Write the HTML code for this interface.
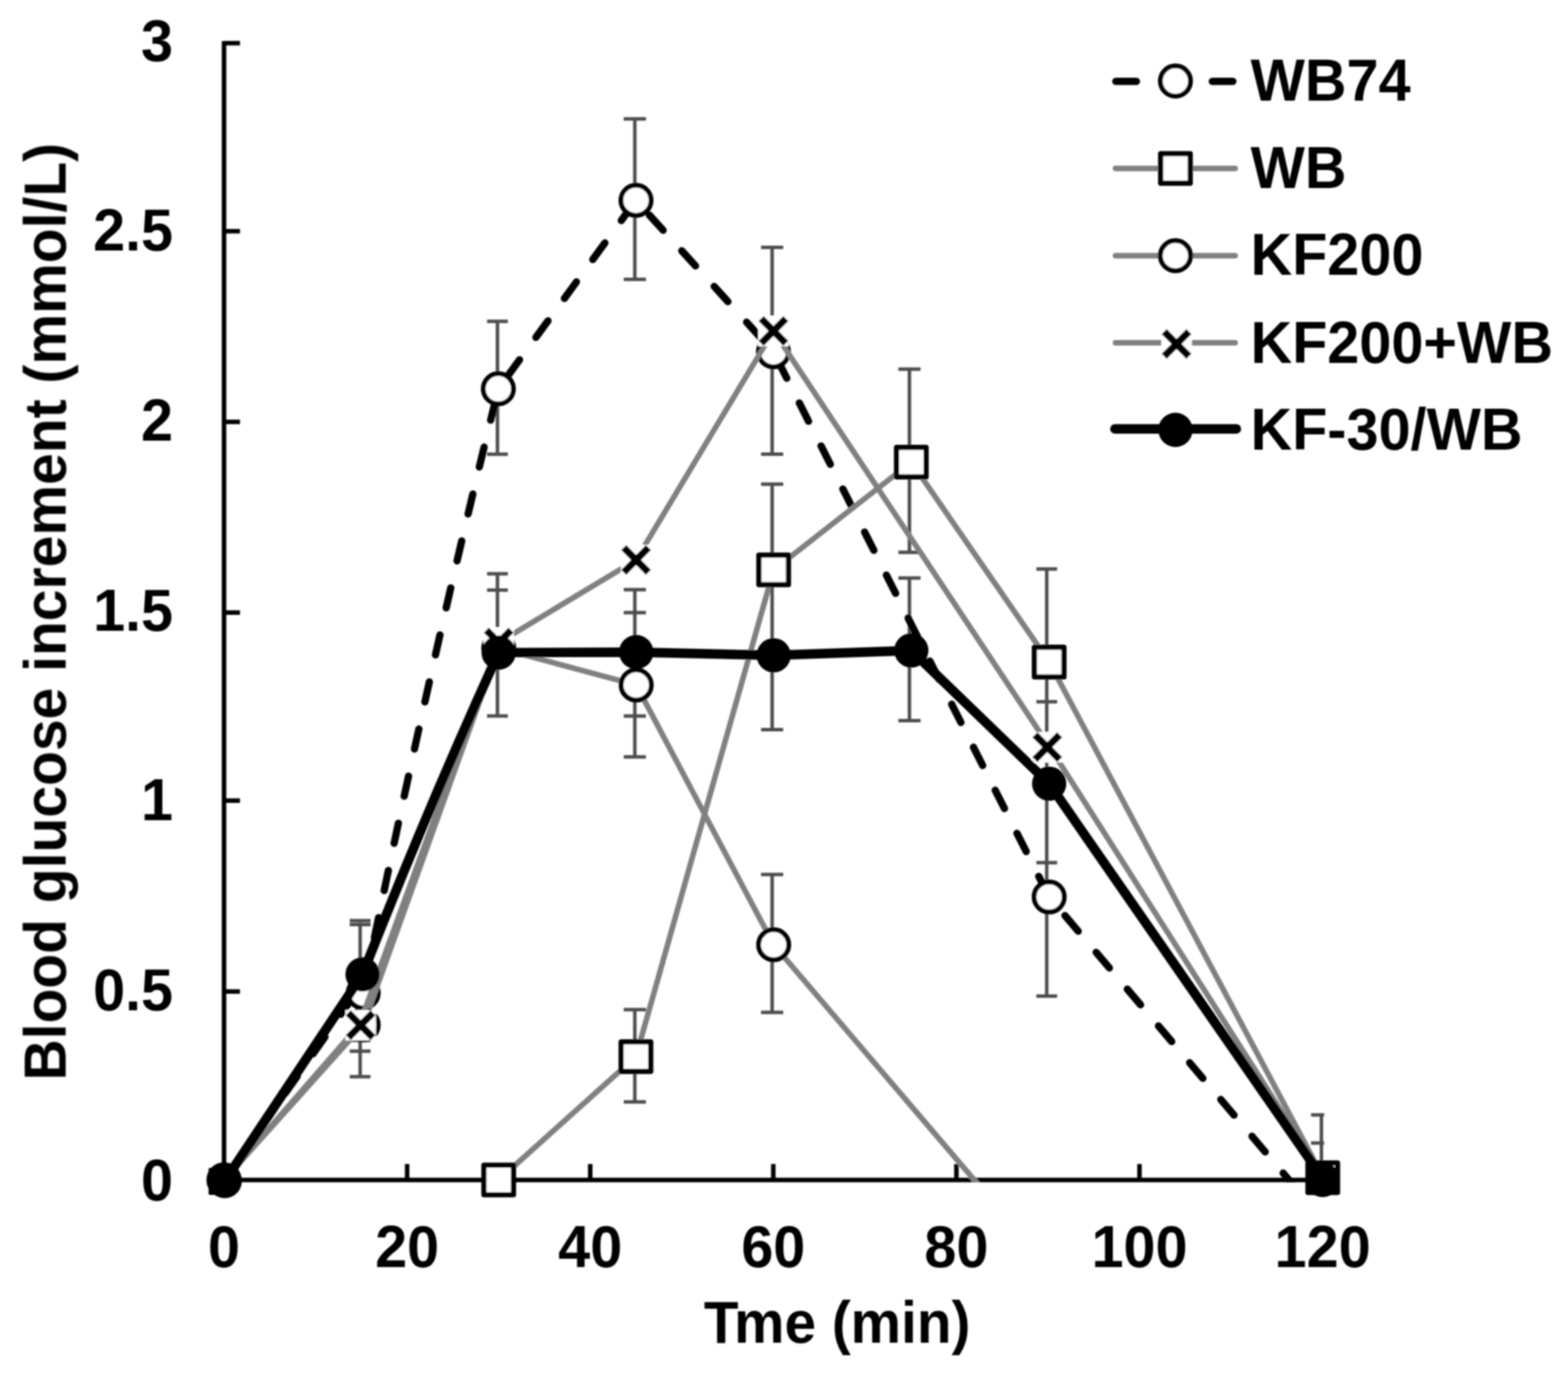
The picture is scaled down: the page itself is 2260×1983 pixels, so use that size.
<!DOCTYPE html>
<html lang="en"><head><meta charset="utf-8"><title>Blood glucose increment</title>
<style>html,body{margin:0;padding:0;background:#fff}body{width:2260px;height:1983px;overflow:hidden}svg{display:block}text{font-family:"Liberation Sans",Arial,Helvetica,sans-serif;font-weight:bold;fill:#000}</style>
</head><body>
<svg width="2260" height="1983" viewBox="0 0 2260 1983">
<rect x="0" y="0" width="2260" height="1983" fill="#fff"/>
<defs><filter id="soft" x="0" y="0" width="2260" height="1983" filterUnits="userSpaceOnUse"><feGaussianBlur stdDeviation="0.90"/></filter></defs>
<g filter="url(#soft)">
<defs><clipPath id="plot"><rect x="280" y="40" width="1628.5" height="1664"/></clipPath><clipPath id="plotw"><rect x="280" y="40" width="1700" height="1700"/></clipPath></defs>
<g stroke="#000" stroke-width="6.5" fill="none" stroke-linecap="butt">
<line x1="322.9" y1="59.2" x2="322.9" y2="1703.8"/>
<line x1="319.6" y1="1700.5" x2="1906.3" y2="1700.5"/>
<line x1="322.9" y1="62.2" x2="345.9" y2="62.2"/>
<line x1="322.9" y1="333.2" x2="345.9" y2="333.2"/>
<line x1="322.9" y1="608.0" x2="345.9" y2="608.0"/>
<line x1="322.9" y1="882.8" x2="345.9" y2="882.8"/>
<line x1="322.9" y1="1153.8" x2="345.9" y2="1153.8"/>
<line x1="322.9" y1="1428.9" x2="345.9" y2="1428.9"/>
<line x1="586.8" y1="1700.5" x2="586.8" y2="1677.5"/>
<line x1="850.7" y1="1700.5" x2="850.7" y2="1677.5"/>
<line x1="1114.6" y1="1700.5" x2="1114.6" y2="1677.5"/>
<line x1="1378.5" y1="1700.5" x2="1378.5" y2="1677.5"/>
<line x1="1642.4" y1="1700.5" x2="1642.4" y2="1677.5"/>
</g>
<text transform="translate(249.5 87.8) scale(1.0000 1.0350)" font-size="83" text-anchor="end">3</text>
<text transform="translate(249.5 361.5) scale(1.0000 1.0350)" font-size="83" text-anchor="end">2.5</text>
<text transform="translate(249.5 635.1) scale(1.0000 1.0350)" font-size="83" text-anchor="end">2</text>
<text transform="translate(249.5 908.8) scale(1.0000 1.0350)" font-size="83" text-anchor="end">1.5</text>
<text transform="translate(249.5 1182.5) scale(1.0000 1.0350)" font-size="83" text-anchor="end">1</text>
<text transform="translate(249.5 1456.1) scale(1.0000 1.0350)" font-size="83" text-anchor="end">0.5</text>
<text transform="translate(249.5 1729.8) scale(1.0000 1.0350)" font-size="83" text-anchor="end">0</text>
<text transform="translate(322.9 1826.0) scale(1.0000 1.0350)" font-size="83" text-anchor="middle">0</text>
<text transform="translate(586.8 1826.0) scale(1.0000 1.0350)" font-size="83" text-anchor="middle">20</text>
<text transform="translate(850.7 1826.0) scale(1.0000 1.0350)" font-size="83" text-anchor="middle">40</text>
<text transform="translate(1114.6 1826.0) scale(1.0000 1.0350)" font-size="83" text-anchor="middle">60</text>
<text transform="translate(1378.5 1826.0) scale(1.0000 1.0350)" font-size="83" text-anchor="middle">80</text>
<text transform="translate(1642.4 1826.0) scale(1.0000 1.0350)" font-size="83" text-anchor="middle">100</text>
<text transform="translate(1906.3 1826.0) scale(1.0000 1.0350)" font-size="83" text-anchor="middle">120</text>
<text transform="translate(1014.5 1935.0) scale(0.9850 1.0350)" font-size="83" text-anchor="start" dx="0 -6.5">Tme (min)</text>
<text transform="translate(94.3 881.5) rotate(-90) scale(0.9900 1.0350)" font-size="83" text-anchor="middle">Blood glucose increment (mmol/L)</text>
<g stroke="#4d4d4d" stroke-width="5" fill="none" clip-path="url(#plot)">
<line x1="519.1" y1="1329.6" x2="519.1" y2="1404.0"/><line x1="504.1" y1="1326.8" x2="534.1" y2="1326.8"/><line x1="504.1" y1="1332.4" x2="534.1" y2="1332.4"/>
<line x1="519.1" y1="1477.0" x2="519.1" y2="1551.7"/><line x1="504.1" y1="1499.3" x2="534.1" y2="1499.3"/><line x1="504.1" y1="1514.9" x2="534.1" y2="1514.9"/><line x1="504.1" y1="1551.7" x2="534.1" y2="1551.7"/>
<line x1="717.0" y1="463.1" x2="717.0" y2="654.6"/><line x1="702.0" y1="463.1" x2="732.0" y2="463.1"/><line x1="702.0" y1="654.6" x2="732.0" y2="654.6"/>
<line x1="717.0" y1="826.9" x2="717.0" y2="1031.8"/><line x1="702.0" y1="826.9" x2="732.0" y2="826.9"/><line x1="702.0" y1="850.4" x2="732.0" y2="850.4"/><line x1="702.0" y1="1031.8" x2="732.0" y2="1031.8"/>
<line x1="915.0" y1="171.3" x2="915.0" y2="402.6"/><line x1="899.0" y1="171.3" x2="931.0" y2="171.3"/><line x1="899.0" y1="402.6" x2="931.0" y2="402.6"/>
<line x1="915.0" y1="849.8" x2="915.0" y2="1090.8"/><line x1="899.0" y1="849.8" x2="931.0" y2="849.8"/><line x1="899.0" y1="882.9" x2="931.0" y2="882.9"/><line x1="899.0" y1="1031.9" x2="931.0" y2="1031.9"/><line x1="899.0" y1="1090.8" x2="931.0" y2="1090.8"/>
<line x1="915.0" y1="1455.0" x2="915.0" y2="1588.0"/><line x1="899.0" y1="1455.0" x2="931.0" y2="1455.0"/><line x1="899.0" y1="1588.0" x2="931.0" y2="1588.0"/>
<line x1="1112.9" y1="356.4" x2="1112.9" y2="654.6"/><line x1="1096.9" y1="356.4" x2="1128.9" y2="356.4"/><line x1="1096.9" y1="654.6" x2="1128.9" y2="654.6"/>
<line x1="1112.9" y1="697.7" x2="1112.9" y2="1051.6"/><line x1="1096.9" y1="697.7" x2="1128.9" y2="697.7"/><line x1="1096.9" y1="1051.6" x2="1128.9" y2="1051.6"/>
<line x1="1112.9" y1="1260.3" x2="1112.9" y2="1459.0"/><line x1="1096.9" y1="1260.3" x2="1128.9" y2="1260.3"/><line x1="1096.9" y1="1459.0" x2="1128.9" y2="1459.0"/>
<line x1="1310.8" y1="531.9" x2="1310.8" y2="796.1"/><line x1="1294.8" y1="531.9" x2="1326.8" y2="531.9"/><line x1="1294.8" y1="796.1" x2="1326.8" y2="796.1"/>
<line x1="1310.8" y1="832.9" x2="1310.8" y2="1038.4"/><line x1="1294.8" y1="832.9" x2="1326.8" y2="832.9"/><line x1="1294.8" y1="1038.4" x2="1326.8" y2="1038.4"/>
<line x1="1508.7" y1="820.0" x2="1508.7" y2="1435.5"/><line x1="1493.7" y1="820.0" x2="1523.7" y2="820.0"/><line x1="1493.7" y1="1011.3" x2="1523.7" y2="1011.3"/><line x1="1493.7" y1="1243.2" x2="1523.7" y2="1243.2"/><line x1="1493.7" y1="1435.5" x2="1523.7" y2="1435.5"/>
<line x1="1904.6" y1="1606.7" x2="1904.6" y2="1700.0"/><line x1="1889.6" y1="1606.7" x2="1919.6" y2="1606.7"/><line x1="1889.6" y1="1647.2" x2="1919.6" y2="1647.2"/>
</g>
<g clip-path="url(#plot)">
<path d="M322.9 1700.5Q422.2 1559.8 521.5 1419.0" fill="none" stroke="#000" stroke-width="10.5" stroke-linecap="round" stroke-dasharray="29.5 40.0" stroke-dashoffset="55.2"/>
<path d="M523.5 1431.0Q611.0 995.6 718.3 560.3" fill="none" stroke="#000" stroke-width="10.5" stroke-linecap="round" stroke-dasharray="29.5 40.0" stroke-dashoffset="57.7"/>
<path d="M718.3 560.3Q817.5 424.5 916.7 288.7" fill="none" stroke="#000" stroke-width="10.5" stroke-linecap="round" stroke-dasharray="29.5 40.0" stroke-dashoffset="47.2"/>
<path d="M916.7 288.7Q1015.8 397.9 1114.8 507.0" fill="none" stroke="#000" stroke-width="10.5" stroke-linecap="round" stroke-dasharray="29.5 40.0" stroke-dashoffset="40.9"/>
<path d="M1114.8 507.0Q1313.5 899.8 1512.2 1292.6" fill="none" stroke="#000" stroke-width="10.5" stroke-linecap="round" stroke-dasharray="29.5 40.0" stroke-dashoffset="56.4"/>
<path d="M1512.2 1292.6Q1709.2 1525.1 1906.3 1757.6" fill="none" stroke="#000" stroke-width="10.5" stroke-linecap="round" stroke-dasharray="29.5 40.0" stroke-dashoffset="34.3"/>
</g><g clip-path="url(#plotw)">
<circle cx="322.9" cy="1700.5" r="21.7" fill="#fff" stroke="#000" stroke-width="7.0"/><circle cx="523.5" cy="1431.0" r="21.7" fill="#fff" stroke="#000" stroke-width="7.0"/><circle cx="718.3" cy="560.3" r="21.7" fill="#fff" stroke="#000" stroke-width="7.0"/><circle cx="916.7" cy="288.7" r="21.7" fill="#fff" stroke="#000" stroke-width="7.0"/><circle cx="1114.8" cy="507.0" r="21.7" fill="#fff" stroke="#000" stroke-width="7.0"/><circle cx="1512.2" cy="1292.6" r="21.7" fill="#fff" stroke="#000" stroke-width="7.0"/>
</g><g clip-path="url(#plot)">
<path d="M718.8 1700.5L916.6 1522.7L1115.1 821.3L1313.5 666.0L1512.2 954.1L1909.0 1700.5" fill="none" stroke="#808080" stroke-width="8.0" stroke-linejoin="round"/>
</g><g clip-path="url(#plotw)">
<rect x="300.6" y="1683" width="26" height="39" rx="2" fill="#000"/>
<rect x="697.5" y="1679.2" width="42.6" height="42.6" fill="#fff" stroke="#000" stroke-width="7.5" stroke-linejoin="round"/><rect x="895.3" y="1501.4" width="42.6" height="42.6" fill="#fff" stroke="#000" stroke-width="7.5" stroke-linejoin="round"/><rect x="1093.8" y="800.0" width="42.6" height="42.6" fill="#fff" stroke="#000" stroke-width="7.5" stroke-linejoin="round"/><rect x="1292.2" y="644.7" width="42.6" height="42.6" fill="#fff" stroke="#000" stroke-width="7.5" stroke-linejoin="round"/><rect x="1490.9" y="932.8" width="42.6" height="42.6" fill="#fff" stroke="#000" stroke-width="7.5" stroke-linejoin="round"/><rect x="1885.2" y="1675.9" width="42.6" height="42.6" fill="#fff" stroke="#000" stroke-width="7.5" stroke-linejoin="round"/>
</g><g clip-path="url(#plot)">
<path d="M322.9 1700.5L523.5 1477.0L718.8 934.0L917.0 987.2L1115.1 1361.5L1512.2 1827.0" fill="none" stroke="#808080" stroke-width="8.0" stroke-linejoin="round"/>
</g><g clip-path="url(#plotw)">
<circle cx="322.9" cy="1700.5" r="21.7" fill="#fff" stroke="#000" stroke-width="7.0"/><circle cx="523.5" cy="1477.0" r="21.7" fill="#fff" stroke="#000" stroke-width="7.0"/><circle cx="718.8" cy="934.0" r="21.7" fill="#fff" stroke="#000" stroke-width="7.0"/><circle cx="917.0" cy="987.2" r="21.7" fill="#fff" stroke="#000" stroke-width="7.0"/><circle cx="1115.1" cy="1361.5" r="21.7" fill="#fff" stroke="#000" stroke-width="7.0"/>
</g><g clip-path="url(#plot)">
<path d="M322.9 1700.5L517.5 1477.5L718.8 926.0L916.8 807.0L1114.8 477.0L1513.0 1076.8L1910.0 1700.5" fill="none" stroke="#808080" stroke-width="8.0" stroke-linejoin="round"/>
</g><g clip-path="url(#plotw)">
<path d="M305.1 1682.7L340.7 1718.3M305.1 1718.3L340.7 1682.7" stroke="#000" stroke-width="10.3" fill="none"/><rect x="497.8" y="1455.5" width="44.0" height="44.0" fill="#fff"/><path d="M502.0 1459.7L537.6 1495.3M502.0 1495.3L537.6 1459.7" stroke="#000" stroke-width="10.3" fill="none"/><rect x="696.8" y="904.0" width="44.0" height="44.0" fill="#fff"/><path d="M701.0 908.2L736.6 943.8M701.0 943.8L736.6 908.2" stroke="#000" stroke-width="10.3" fill="none"/><rect x="894.8" y="785.0" width="44.0" height="44.0" fill="#fff"/><path d="M899.0 789.2L934.6 824.8M899.0 824.8L934.6 789.2" stroke="#000" stroke-width="10.3" fill="none"/><rect x="1092.8" y="455.0" width="44.0" height="44.0" fill="#fff"/><path d="M1097.0 459.2L1132.6 494.8M1097.0 494.8L1132.6 459.2" stroke="#000" stroke-width="10.3" fill="none"/><rect x="1487.5" y="1054.8" width="44.0" height="44.0" fill="#fff"/><path d="M1491.7 1059.0L1527.3 1094.6M1491.7 1094.6L1527.3 1059.0" stroke="#000" stroke-width="10.3" fill="none"/><path d="M1888.5 1682.7L1924.1 1718.3M1888.5 1718.3L1924.1 1682.7" stroke="#000" stroke-width="10.3" fill="none"/>
</g><g clip-path="url(#plot)">
<path d="M323.9 1702.0L522.6 1404.3Q613.2 1172.4 718.7 940.5L917.0 939.8L1115.1 944.4L1313.5 937.4L1512.2 1129.4L1908.3 1700.5" fill="none" stroke="#000" stroke-width="13.7" stroke-linejoin="round" stroke-linecap="round"/>
</g><g clip-path="url(#plotw)">
<circle cx="323.9" cy="1702.0" r="24.7" fill="#000"/><circle cx="522.6" cy="1404.3" r="24.7" fill="#000"/><circle cx="718.7" cy="940.5" r="24.7" fill="#000"/><circle cx="917.0" cy="939.8" r="24.7" fill="#000"/><circle cx="1115.1" cy="944.4" r="24.7" fill="#000"/><circle cx="1313.5" cy="937.4" r="24.7" fill="#000"/><circle cx="1512.2" cy="1129.4" r="24.7" fill="#000"/><circle cx="1906.3" cy="1700.5" r="24.7" fill="#000"/>
</g>
<path d="M1608.2 117.3H1638.0M1747.3 117.3H1777.0" stroke="#000" stroke-width="10.5" stroke-linecap="round" fill="none"/>
<circle cx="1694.2" cy="116.8" r="21.7" fill="#fff" stroke="#000" stroke-width="7.0"/>
<line x1="1607.8" y1="242.8" x2="1780.3" y2="242.8" stroke="#808080" stroke-width="8" stroke-linecap="round"/>
<rect x="1672.9" y="221.5" width="42.6" height="42.6" fill="#fff" stroke="#000" stroke-width="7.5" stroke-linejoin="round"/>
<line x1="1607.8" y1="368.5" x2="1780.3" y2="368.5" stroke="#808080" stroke-width="8" stroke-linecap="round"/>
<circle cx="1694.2" cy="368.5" r="21.7" fill="#fff" stroke="#000" stroke-width="7.0"/>
<line x1="1607.8" y1="494.0" x2="1780.3" y2="494.0" stroke="#808080" stroke-width="8" stroke-linecap="round"/>
<rect x="1673.8" y="473.7" width="44.0" height="44.0" fill="#fff"/><path d="M1678.0 477.9L1713.6 513.5M1678.0 513.5L1713.6 477.9" stroke="#000" stroke-width="10.3" fill="none"/>
<line x1="1607.0" y1="618.2" x2="1782.0" y2="618.2" stroke="#000" stroke-width="13.7" stroke-linecap="round"/>
<circle cx="1694.2" cy="619.5" r="24.7" fill="#000"/>
<text transform="translate(1802.5 145.0) scale(1.0000 1.0350)" font-size="83" text-anchor="start">WB74</text>
<text transform="translate(1802.5 271.0) scale(1.0000 1.0350)" font-size="83" text-anchor="start">WB</text>
<text transform="translate(1802.5 396.3) scale(1.0000 1.0350)" font-size="83" text-anchor="start">KF200</text>
<text transform="translate(1802.5 523.0) scale(1.0000 1.0350)" font-size="83" text-anchor="start">KF200+WB</text>
<text transform="translate(1802.5 648.3) scale(1.0000 1.0350)" font-size="83" text-anchor="start">KF-30/WB</text>
</g>
</svg></body></html>
